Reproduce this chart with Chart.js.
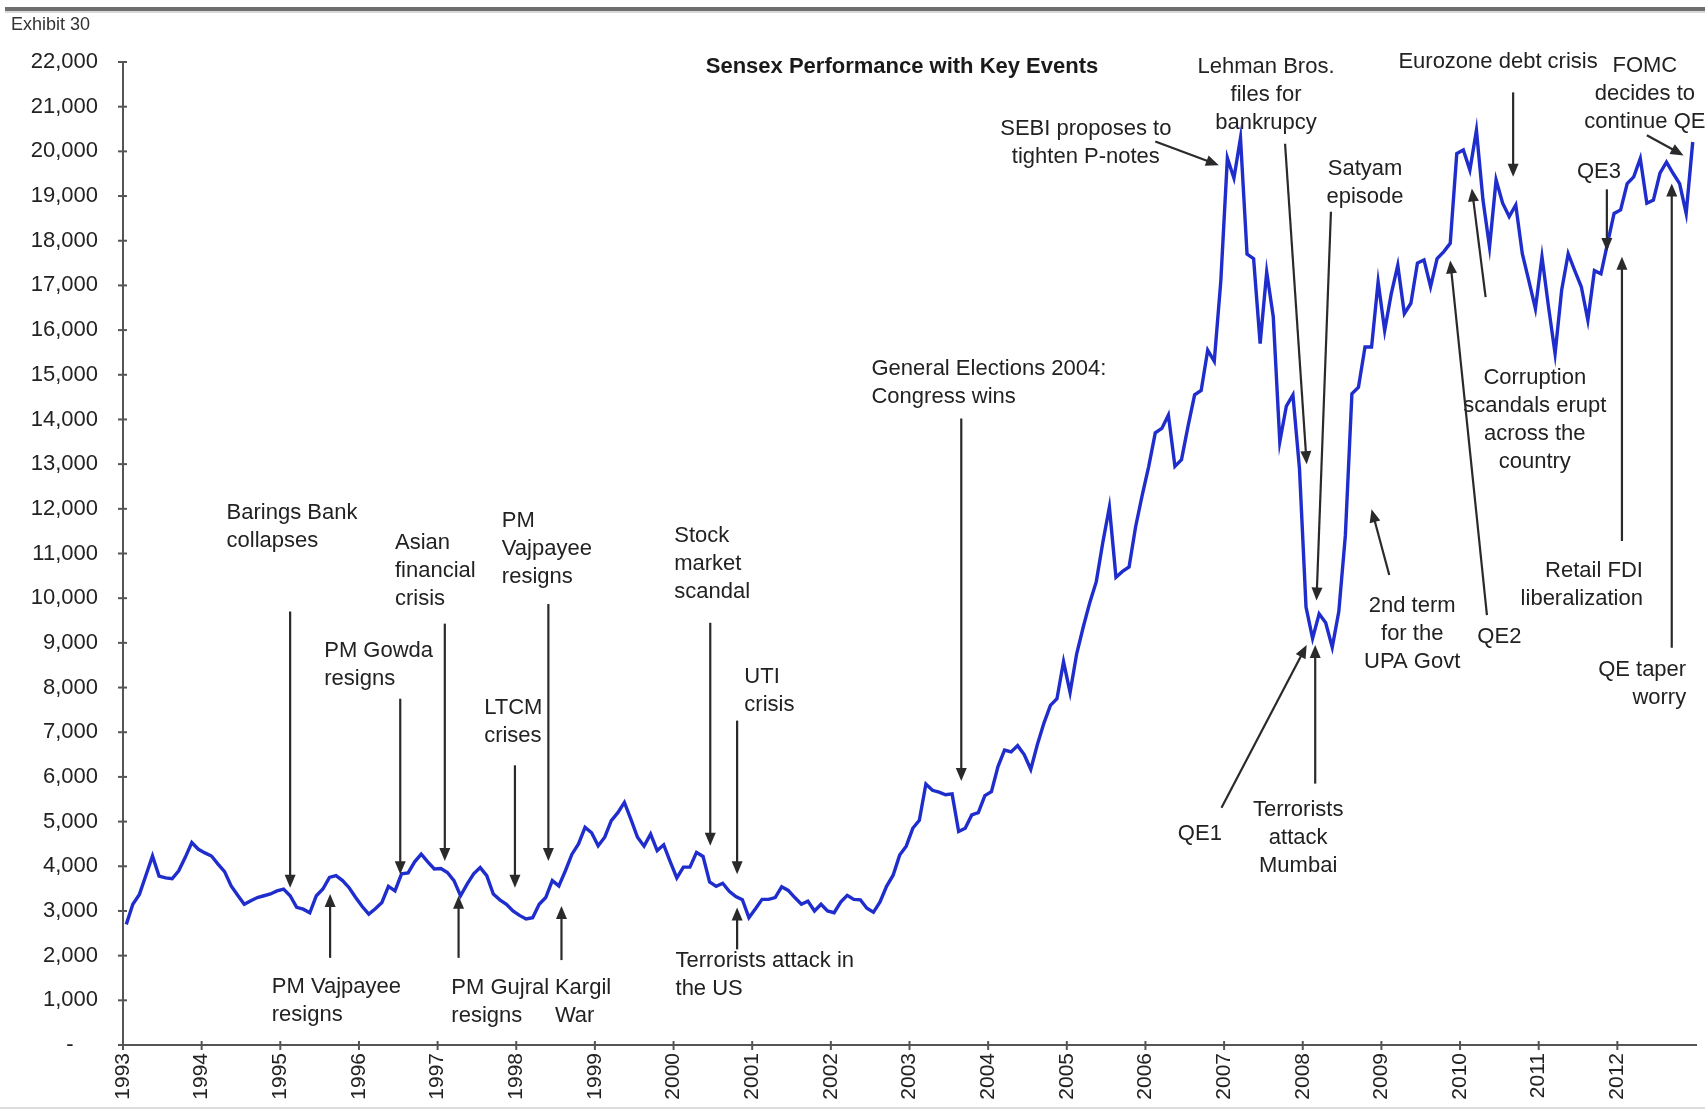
<!DOCTYPE html>
<html>
<head>
<meta charset="utf-8">
<script src="https://cdn.jsdelivr.net/npm/chart.js@4.4.1/dist/chart.umd.min.js"></script>
<style>
  html, body { margin: 0; padding: 0; background: #ffffff; }
  #wrap { position: relative; width: 1705px; height: 1111px; }
  canvas { display: block; }
</style>
</head>
<body>
<div id="wrap"><canvas id="c" width="1705" height="1111"></canvas></div>
<script>
// ---------------- DATA ----------------
const chartTitle = 'Sensex Performance with Key Events';
const exhibitLabel = 'Exhibit 30';

// x-axis tick labels (one per 12 monthly points)
const yearLabels = ['1993','1994','1995','1996','1997','1998','1999','2000','2001','2002',
                    '2003','2004','2005','2006','2007','2008','2009','2010','2011','2012'];

// Sensex, monthly closes
const sensexPart1 = [
  2700,3150,3370,3800,4230,3780,3740,3720,3900,4200,4530,4380,
  4300,4230,4050,3880,3560,3350,3150,3230,3300,3340,3380,3450,
  3490,3340,3080,3040,2960,3340,3490,3750,3790,3680,3520,3300,
  3100,2930,3050,3190,3550,3450,3830,3850,4100,4270,4100,3940,
  3950,3860,3680,3340,3600,3830,3970,3790,3380,3250,3150,3000
];
const sensexPart2 = [
  2900,2820,2850,3150,3300,3680,3560,3900,4270,4500,4870,4750,
  4460,4650,5020,5200,5430,5050,4650,4450,4720,4350,4480,4100,
  3740,3980,3980,4310,4220,3650,3550,3620,3440,3320,3250,2850,
  3050,3260,3260,3300,3540,3460,3300,3150,3220,3000,3150,3000,
  2960,3200,3350,3260,3250,3060,2970,3200,3550,3800,4250,4450
];
const sensexPart3 = [
  4850,5030,5840,5700,5660,5600,5620,4780,4850,5150,5200,5580,
  5670,6230,6600,6560,6700,6500,6170,6720,7200,7600,7750,8580,
  7890,8750,9350,9900,10370,11250,12040,10470,10600,10700,11600,12300,
  12950,13700,13800,14100,12950,13100,13850,14550,14650,15550,15300,17100,
  19850,19400,20300,17700,17600,15700,17300,16300,13500,14300,14550,12900
];
const sensexPart4 = [
  9800,9100,9650,9450,8900,9700,11400,14575,14720,15620,15620,17080,
  15990,16810,17450,16370,16600,17500,17570,16970,17600,17750,17940,19950,
  20030,19580,20470,18910,17860,19360,18840,18540,18800,17710,17100,16480,
  17640,16520,15470,16890,17710,17330,16970,16220,17330,17260,17940,18610,
  18690,19280,19430,19840,18840,18910,19510,19760,19510,19280,18610,20210
];
const sensexMonthly = [...sensexPart1, ...sensexPart2, ...sensexPart3, ...sensexPart4];

// Key events (text lines)
const eventTexts = [
  ['Barings Bank','collapses'],
  ['PM Vajpayee','resigns'],
  ['PM Gowda','resigns'],
  ['Asian','financial','crisis'],
  ['PM Gujral','resigns'],
  ['LTCM','crises'],
  ['PM','Vajpayee','resigns'],
  ['Kargil','War'],
  ['Stock','market','scandal'],
  ['UTI','crisis'],
  ['Terrorists attack in','the US'],
  ['General Elections 2004:','Congress wins'],
  ['SEBI proposes to','tighten P-notes'],
  ['Lehman Bros.','files for','bankrupcy'],
  ['Satyam','episode'],
  ['QE1'],
  ['Terrorists','attack','Mumbai'],
  ['2nd term','for the','UPA Govt'],
  ['Eurozone debt crisis'],
  ['Corruption','scandals erupt','across the','country'],
  ['QE2'],
  ['FOMC','decides to','continue QE'],
  ['QE3'],
  ['Retail FDI','liberalization'],
  ['QE taper','worry']
];
// layout of the annotations in (month, value) space, kept apart from the data
const eventLayout = [
  {align:'left',   at:[15.8, 11900], from:[25.5, 9700],  to:[25.5, 3520]},
  {align:'left',   at:[22.7, 1290],  from:[31.6, 1950],  to:[31.6, 3380]},
  {align:'left',   at:[30.7, 8820],  from:[42.3, 7750],  to:[42.3, 3820]},
  {align:'left',   at:[41.5, 11230], from:[49.1, 9430],  to:[49.1, 4120]},
  {align:'left',   at:[50.1, 1270],  from:[51.2, 1950],  to:[51.2, 3340]},
  {align:'left',   at:[55.1, 7550],  from:[59.8, 6260],  to:[59.8, 3520]},
  {align:'left',   at:[57.8, 11720], from:[64.9, 9870],  to:[64.9, 4120]},
  {align:'left',   at:[65.9, 1270],  from:[66.9, 1900],  to:[66.9, 3110]},
  {align:'left',   at:[84.1, 11400], from:[89.6, 9450],  to:[89.6, 4460]},
  {align:'left',   at:[94.8, 8230],  from:[93.7, 7260],  to:[93.7, 3820]},
  {align:'left',   at:[84.3, 1880],  from:[93.7, 2140],  to:[93.7, 3080]},
  {align:'left',   at:[114.2, 15130],from:[127.9, 14020],to:[127.9, 5910]},
  {align:'center', at:[146.9, 20510],from:[157.5, 20220],to:[167.2, 19690]},
  {align:'center', at:[174.4, 21880],from:[177.3, 20170],to:[180.6, 13000]},
  {align:'center', at:[189.5, 19610],from:[184.3, 18650],to:[182.1, 9950]},
  {align:'center', at:[164.3, 4730], from:[167.6, 5310], to:[180.6, 8950]},
  {align:'center', at:[179.3, 5260], from:[181.9, 5850], to:[181.9, 8950]},
  {align:'center', at:[196.7, 9820], from:[193.2, 10520],to:[190.5, 11990]},
  {align:'center', at:[209.8, 22000],from:[212.1, 21320],to:[212.1, 19430]},
  {align:'center', at:[215.4, 14930],from:[207.9, 16740],to:[205.8, 19170]},
  {align:'center', at:[210.0, 9140], from:[208.1, 9620], to:[202.5, 17560]},
  {align:'center', at:[232.2, 21920],from:[232.5, 20360],to:[238.1, 19910]},
  {align:'center', at:[225.2, 19540],from:[226.4, 19150],to:[226.4, 17770]},
  {align:'right',  at:[231.9, 10600],from:[228.7, 11280],to:[228.7, 17640]},
  {align:'right',  at:[238.5, 8400], from:[236.3, 8890], to:[236.3, 19280]}
];

// ---------------- CHART ----------------
const FONT = "'Liberation Sans', Arial, Helvetica, sans-serif";
Chart.defaults.font.family = FONT;
Chart.defaults.color = '#222';

const points = sensexMonthly.map((v, k) => ({ x: k + 0.5, y: v }));

function drawArrow(ctx, x1, y1, x2, y2) {
  const ang = Math.atan2(y2 - y1, x2 - x1);
  const hl = 13, hw = 5.5;
  const c = Math.cos(ang), s = Math.sin(ang);
  ctx.beginPath();
  ctx.moveTo(x1, y1);
  ctx.lineTo(x2 - c * hl * 0.7, y2 - s * hl * 0.7);
  ctx.stroke();
  ctx.beginPath();
  ctx.moveTo(x2, y2);
  ctx.lineTo(x2 - c * hl + s * hw, y2 - s * hl - c * hw);
  ctx.lineTo(x2 - c * hl - s * hw, y2 - s * hl + c * hw);
  ctx.closePath();
  ctx.fill();
}

const decor = {
  id: 'decor',
  beforeDraw(chart) {
    const ctx = chart.ctx;
    ctx.save();
    ctx.fillStyle = '#ffffff';
    ctx.fillRect(0, 0, chart.width, chart.height);
    ctx.restore();
  },
  afterDraw(chart) {
    const ctx = chart.ctx;
    const xs = chart.scales.x, ys = chart.scales.y;
    const area = chart.chartArea;
    ctx.save();

    // top rule
    ctx.fillStyle = '#6e6e6e';
    ctx.fillRect(5, 7, chart.width - 5, 4);
    ctx.fillStyle = '#d8d8d8';
    ctx.fillRect(5, 11, chart.width - 5, 2);
    // faint bottom rule
    ctx.fillStyle = '#dddddd';
    ctx.fillRect(0, chart.height - 4, chart.width, 2);

    // exhibit label
    ctx.fillStyle = '#333';
    ctx.font = '18px ' + FONT;
    ctx.textAlign = 'left';
    ctx.textBaseline = 'middle';
    ctx.fillText(exhibitLabel, 11, 25);

    // cross tick marks
    ctx.strokeStyle = '#555';
    ctx.lineWidth = 2;
    ys.ticks.forEach(t => {
      const py = ys.getPixelForValue(t.value);
      ctx.beginPath(); ctx.moveTo(area.left - 5, py); ctx.lineTo(area.left + 4, py); ctx.stroke();
    });
    xs.ticks.forEach(t => {
      if (t.value >= 240) return;
      const px = xs.getPixelForValue(t.value);
      ctx.beginPath(); ctx.moveTo(px, area.bottom - 4); ctx.lineTo(px, area.bottom + 5); ctx.stroke();
    });

    // title
    ctx.fillStyle = '#1a1a1a';
    ctx.font = 'bold 22px ' + FONT;
    ctx.textAlign = 'center';
    ctx.textBaseline = 'middle';
    ctx.fillText(chartTitle, 902, 67);

    // events
    ctx.font = '22px ' + FONT;
    ctx.textBaseline = 'middle';
    ctx.strokeStyle = '#2a2a2a';
    ctx.lineWidth = 2.2;
    eventTexts.forEach((lines, i) => {
      const L = eventLayout[i];
      const tx = xs.getPixelForValue(L.at[0]);
      const ty = ys.getPixelForValue(L.at[1]);
      ctx.textAlign = L.align;
      ctx.fillStyle = '#222';
      lines.forEach((ln, j) => ctx.fillText(ln, tx, ty + j * 28));
      ctx.fillStyle = '#2a2a2a';
      drawArrow(ctx,
        xs.getPixelForValue(L.from[0]), ys.getPixelForValue(L.from[1]),
        xs.getPixelForValue(L.to[0]), ys.getPixelForValue(L.to[1]));
    });
    ctx.restore();
  }
};

new Chart(document.getElementById('c'), {
  type: 'line',
  data: {
    datasets: [{
      label: 'Sensex',
      data: points,
      borderColor: '#1f2dcc',
      borderWidth: 3.4,
      pointRadius: 0,
      tension: 0,
      fill: false
    }]
  },
  options: {
    responsive: false,
    devicePixelRatio: 1,
    animation: false,
    layout: { padding: { top: 62, right: 9, left: 0, bottom: 0 } },
    plugins: {
      legend: { display: false },
      title: { display: false },
      tooltip: { enabled: false }
    },
    scales: {
      x: {
        type: 'linear',
        min: 0,
        max: 240,
        grid: { display: false, drawTicks: false },
        border: { display: true, color: '#555', width: 2 },
        afterFit: s => { s.height = 66; s.paddingRight = 0; s.paddingLeft = 0; },
        ticks: {
          stepSize: 12,
          autoSkip: false,
          minRotation: 90,
          maxRotation: 90,
          padding: 8,
          color: '#222',
          font: { size: 21 },
          callback: v => (v % 12 === 0 && v / 12 < yearLabels.length) ? yearLabels[v / 12] : ''
        }
      },
      y: {
        min: 0,
        max: 22000,
        grid: { display: false, drawTicks: false },
        border: { display: true, color: '#555', width: 2 },
        afterFit: s => { s.width = 123; s.paddingTop = 0; s.paddingBottom = 0; },
        ticks: {
          stepSize: 1000,
          padding: 25,
          color: '#222',
          font: { size: 22 },
          callback: v => v === 0 ? '-    ' : Number(v).toLocaleString('en-US')
        }
      }
    }
  },
  plugins: [decor]
});
</script>
</body>
</html>
